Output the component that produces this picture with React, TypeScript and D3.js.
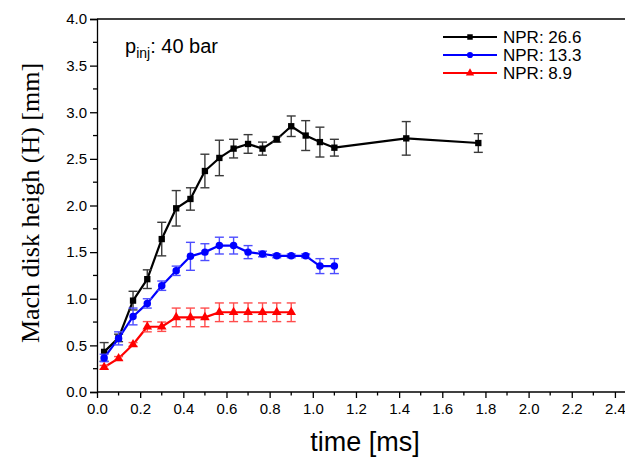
import { useEffect, useRef } from 'react';
import * as d3 from 'd3';

// time of each frame [ms]
const times = [0.033, 0.1, 0.167, 0.233, 0.3, 0.367, 0.433, 0.5, 0.567, 0.633, 0.7, 0.767, 0.833, 0.9, 0.967, 1.033, 1.1, 1.433, 1.767];

// NPR 26.6
const npr266 = [0.43, 0.58, 0.98, 1.21, 1.64, 1.97, 2.07, 2.37, 2.51, 2.61, 2.66, 2.61, 2.71, 2.85, 2.75, 2.68, 2.62, 2.72, 2.67];
const npr266Err = [0.1, 0.04, 0.1, 0.1, 0.18, 0.19, 0.12, 0.18, 0.19, 0.1, 0.1, 0.07, 0.03, 0.11, 0.16, 0.16, 0.09, 0.18, 0.1];

// NPR 13.3
const npr133 = [0.365, 0.575, 0.81, 0.95, 1.14, 1.3, 1.455, 1.5, 1.57, 1.57, 1.5, 1.48, 1.46, 1.46, 1.46, 1.35, 1.35];
const npr133Err = [0.04, 0.07, 0.09, 0.05, 0.05, 0.05, 0.15, 0.09, 0.09, 0.09, 0.07, 0.03, 0.02, 0.02, 0.02, 0.08, 0.08];

// NPR 8.9
const npr89 = [0.265, 0.36, 0.51, 0.7, 0.7, 0.8, 0.8, 0.8, 0.855, 0.855, 0.855, 0.855, 0.855, 0.855];
const npr89Err = [0.02, 0.02, 0.02, 0.055, 0.05, 0.1, 0.1, 0.1, 0.1, 0.1, 0.1, 0.1, 0.1, 0.1];

const seriesNames = ['NPR: 26.6', 'NPR: 13.3', 'NPR: 8.9'];
const xTicks = [0, 0.2, 0.4, 0.6, 0.8, 1.0, 1.2, 1.4, 1.6, 1.8, 2.0, 2.2, 2.4];
const yTicks = [0, 0.5, 1.0, 1.5, 2.0, 2.5, 3.0, 3.5, 4.0];

const SANS = '"Liberation Sans", Arial, sans-serif';
const SERIF = '"Liberation Serif", "Times New Roman", serif';

export default function App() {
  const svgRef = useRef<SVGSVGElement | null>(null);

  useEffect(() => {
    if (!svgRef.current) return;
    const svg = d3.select(svgRef.current);
    svg.selectAll('*').remove();

    const x = d3.scaleLinear().domain([0, 2.5]).range([97, 636.5]);
    const y = d3.scaleLinear().domain([0, 4]).range([392, 19]);

    const series = [
      { name: seriesNames[0], vals: npr266, err: npr266Err, color: '#000000', errColor: '#3a3a3a', marker: 'square' },
      { name: seriesNames[1], vals: npr133, err: npr133Err, color: '#0000ff', errColor: '#4d4dff', marker: 'circle' },
      { name: seriesNames[2], vals: npr89, err: npr89Err, color: '#ff0000', errColor: '#ff4d4d', marker: 'triangle' },
    ];

    const symbolFor = (m: string) =>
      m === 'square' ? d3.symbol(d3.symbolSquare, 40) : m === 'circle' ? d3.symbol(d3.symbolCircle, 44) : d3.symbol(d3.symbolTriangle, 40);

    // axes frame
    svg.append('line').attr('x1', 97).attr('x2', 625).attr('y1', 19).attr('y2', 19)
      .attr('stroke', '#000').attr('stroke-width', 1.3);

    const xAxis = d3.axisBottom(x).tickValues(xTicks).tickFormat(d3.format('.1f')).tickSize(6).tickPadding(5);
    const gx = svg.append('g').attr('transform', 'translate(0,392)').call(xAxis);
    gx.select('.domain').attr('d', 'M97,0H625').attr('stroke-width', 1.3);
    gx.selectAll('text').attr('font-family', SANS).attr('font-size', 15);
    gx.selectAll('.tick line').attr('stroke-width', 1.3);
    const xMinor = d3.range(0.1, 2.5, 0.2);
    gx.selectAll('.minor').data(xMinor).enter().append('line')
      .attr('x1', d => x(d)).attr('x2', d => x(d)).attr('y1', 0).attr('y2', 3.5)
      .attr('stroke', '#000').attr('stroke-width', 1.3);

    const yAxis = d3.axisLeft(y).tickValues(yTicks).tickFormat(d3.format('.1f')).tickSize(7).tickPadding(3);
    const gy = svg.append('g').attr('transform', 'translate(97,0)').call(yAxis);
    gy.select('.domain').attr('stroke-width', 1.3);
    gy.selectAll('text').attr('font-family', SANS).attr('font-size', 15);
    gy.selectAll('.tick line').attr('stroke-width', 1.3);
    const yMinor = d3.range(0.25, 4, 0.5);
    gy.selectAll('.minor').data(yMinor).enter().append('line')
      .attr('y1', d => y(d)).attr('y2', d => y(d)).attr('x1', 0).attr('x2', -4)
      .attr('stroke', '#000').attr('stroke-width', 1.3);

    // axis titles
    svg.append('text')
      .attr('transform', 'translate(39,203) rotate(-90)')
      .attr('text-anchor', 'middle')
      .attr('font-family', SERIF).attr('font-size', 26)
      .text('Mach disk heigh (H) [mm]');
    svg.append('text')
      .attr('x', 365).attr('y', 451)
      .attr('text-anchor', 'middle')
      .attr('font-family', SANS).attr('font-size', 27)
      .text('time [ms]');

    // annotation
    const ann = svg.append('text').attr('x', 125).attr('y', 53).attr('font-family', SANS).attr('font-size', 20);
    ann.append('tspan').text('p');
    ann.append('tspan').attr('dy', 5).attr('font-size', 14).text('inj');
    ann.append('tspan').attr('dy', -5).text(': 40 bar');

    const line = d3.line<number>().x((_, i) => x(times[i])).y(d => y(d));

    series.forEach(s => {
      const g = svg.append('g');
      // line
      g.append('path').datum(s.vals).attr('d', line).attr('fill', 'none')
        .attr('stroke', s.color).attr('stroke-width', 2.2).attr('stroke-linejoin', 'round');
      // error bars
      const eb = g.selectAll('.eb').data(s.vals).enter().append('g')
        .attr('stroke', s.errColor).attr('stroke-width', 1.4);
      eb.append('line')
        .attr('x1', (_, i) => x(times[i])).attr('x2', (_, i) => x(times[i]))
        .attr('y1', (d, i) => y(d + s.err[i])).attr('y2', (d, i) => y(d - s.err[i]));
      eb.append('line')
        .attr('x1', (_, i) => x(times[i]) - 4.5).attr('x2', (_, i) => x(times[i]) + 4.5)
        .attr('y1', (d, i) => y(d + s.err[i])).attr('y2', (d, i) => y(d + s.err[i]));
      eb.append('line')
        .attr('x1', (_, i) => x(times[i]) - 4.5).attr('x2', (_, i) => x(times[i]) + 4.5)
        .attr('y1', (d, i) => y(d - s.err[i])).attr('y2', (d, i) => y(d - s.err[i]));
      // markers
      g.selectAll('.mk').data(s.vals).enter().append('path')
        .attr('d', symbolFor(s.marker)())
        .attr('transform', (d, i) => `translate(${x(times[i])},${y(d)})`)
        .attr('fill', s.color);
    });

    // legend
    series.forEach((s, i) => {
      const ly = 37 + i * 18;
      svg.append('line').attr('x1', 443).attr('x2', 497).attr('y1', ly).attr('y2', ly)
        .attr('stroke', s.color).attr('stroke-width', 2.2);
      svg.append('path').attr('d', symbolFor(s.marker).size(30)())
        .attr('transform', `translate(470,${ly})`).attr('fill', s.color);
      svg.append('text').attr('x', 503).attr('y', ly).attr('dy', '0.35em')
        .attr('font-family', SANS).attr('font-size', 17).text(s.name);
    });
  }, []);

  return (
    <svg ref={svgRef} width={625} height={458}
      style={{ position: 'absolute', left: 0, top: 0, background: '#fff' }} />
  );
}
